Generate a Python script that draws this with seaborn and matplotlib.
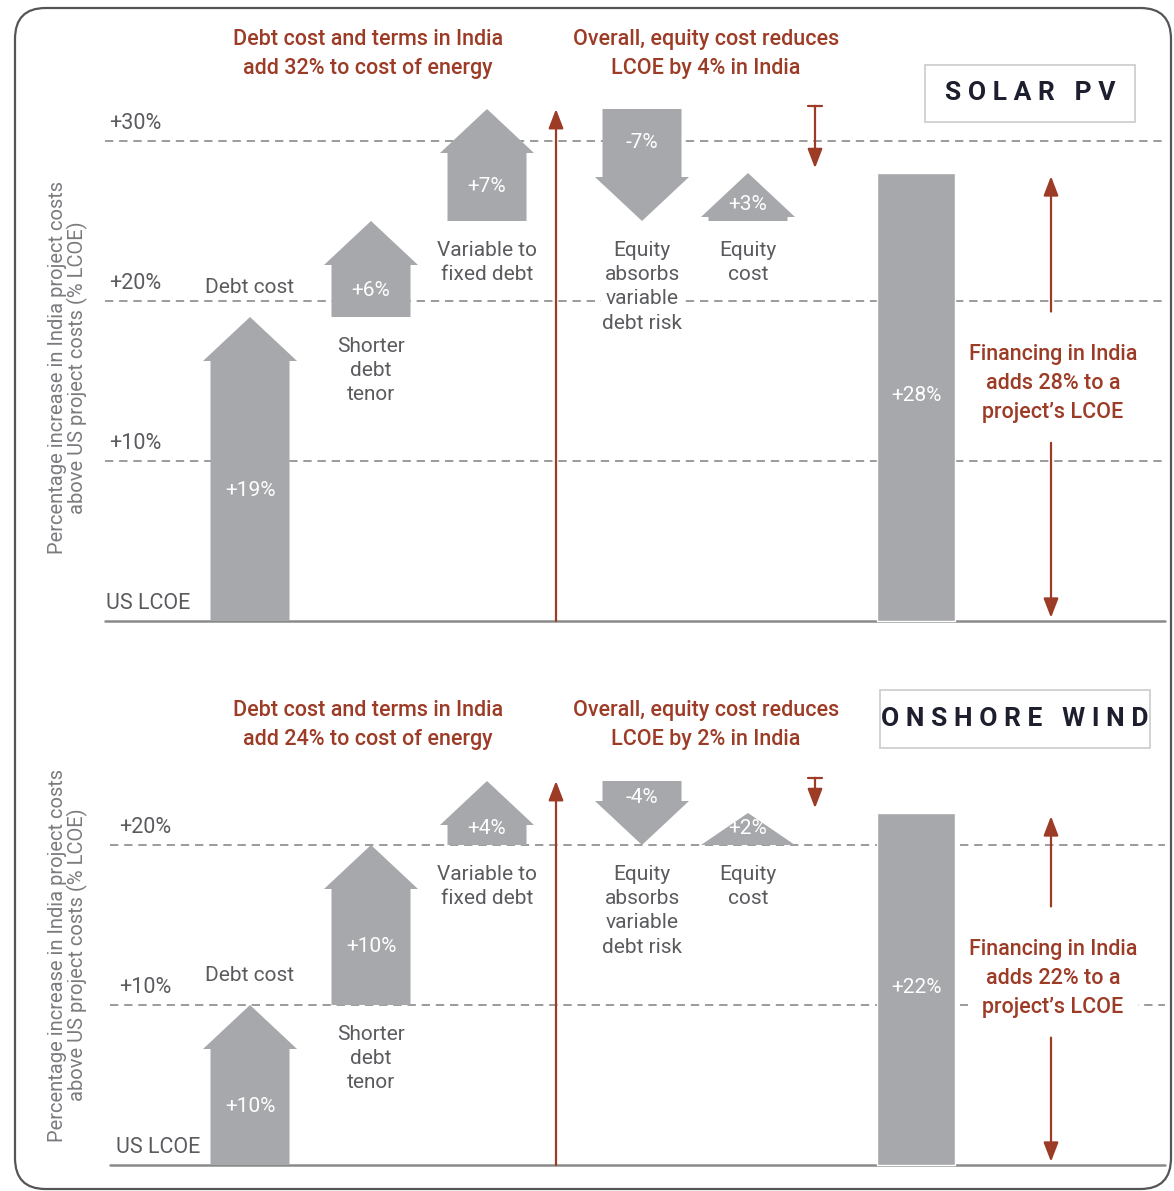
import numpy as np
import pandas as pd
import matplotlib
matplotlib.use("Agg")
import matplotlib.pyplot as plt
import seaborn as sns
from matplotlib.patches import Polygon, Rectangle, FancyBboxPatch

# ---------------- data ----------------
step_labels = ["Debt cost", "Shorter\ndebt\ntenor", "Variable to\nfixed debt",
               "Equity\nabsorbs\nvariable\ndebt risk", "Equity\ncost"]
solar_changes = [19, 6, 7, -7, 3]
wind_changes = [10, 10, 4, -4, 2]
solar_total = 28
wind_total = 22
solar_ticks = [0, 10, 20, 30]
solar_tick_labels = ["US LCOE", "+10%", "+20%", "+30%"]
wind_ticks = [0, 10, 20]
wind_tick_labels = ["US LCOE", "+10%", "+20%"]
solar_headers = ["Debt cost and terms in India\nadd 32% to cost of energy",
                 "Overall, equity cost reduces\nLCOE by 4% in India"]
wind_headers = ["Debt cost and terms in India\nadd 24% to cost of energy",
                "Overall, equity cost reduces\nLCOE by 2% in India"]
solar_note = "Financing in India\nadds 28% to a\nproject\u2019s LCOE"
wind_note = "Financing in India\nadds 22% to a\nproject\u2019s LCOE"
solar_name = "S O L A R   P V"
wind_name = "O N S H O R E   W I N D"
ylabel = "Percentage increase in India project costs\nabove US project costs (% LCOE)"

# ---------------- style ----------------
sns.set_theme(style="white")
plt.rcParams["font.family"] = ["Roboto", "DejaVu Sans"]

GREY = "#a7a8ab"
RED = "#9c3b26"
TXT = "#5a5b5e"
LINE = "#8a8a8a"

W, H = 1174, 1191
fig = plt.figure(figsize=(W / 100, H / 100), dpi=100)
PXU = 16.0  # pixels per percentage point

step_x = [250, 371, 487, 642, 748]
total_x = 916
body_half, head_half = 39.5, 47
FS = 15


def make_panel(rect_px, base_px, changes, total, ticks, tick_labels, headers,
               note, name, name_box, tick_dx, ylab_y):
    top_px, bot_px = rect_px
    ax = fig.add_axes([0, 1 - bot_px / H, 1, (bot_px - top_px) / H])
    ylim = ((base_px - bot_px) / PXU, (base_px - top_px) / PXU)

    # total bar via seaborn
    df = pd.DataFrame({"x": [total_x], "y": [total]})
    sns.barplot(data=df, x="x", y="y", native_scale=True, width=78, color=GREY,
                saturation=1, ax=ax, zorder=3)
    ax.set_xlim(0, W)
    ax.set_ylim(*ylim)
    ax.axis("off")
    ax.text(total_x, total / 2 + 0.1, f"+{total}%", ha="center", va="center", color="white",
            fontsize=FS, zorder=4)

    # grid lines
    for t in ticks[1:]:
        ax.plot([105 + tick_dx / 2, 1165], [t, t], ls=(0, (5, 3.5)), color=LINE, lw=1.2, zorder=1)
    ax.plot([105 + tick_dx / 2, 1165], [0, 0], color=LINE, lw=1.8, zorder=1)
    for t, lab in zip(ticks, tick_labels):
        if t == 0:
            ax.text(106 + tick_dx, t + 0.45, lab, ha="left", va="bottom", fontsize=FS + 0.5, color=TXT)
        else:
            ax.text(161 + tick_dx, t + 0.45, lab, ha="right", va="bottom", fontsize=FS + 0.5, color=TXT)

    # waterfall arrows
    cum = np.concatenate([[0], np.cumsum(changes)])
    for i, (c, xc) in enumerate(zip(changes, step_x)):
        s, e = cum[i], cum[i + 1]
        d = np.sign(e - s)
        L = abs(e - s)
        hl = min(2.75, L)
        sh = e - d * hl
        pts = [(xc - body_half, s), (xc - body_half, sh), (xc - head_half, sh), (xc, e),
               (xc + head_half, sh), (xc + body_half, sh), (xc + body_half, s)]
        ax.add_patch(Polygon(pts, closed=True, fc=GREY, ec="none", zorder=3))
        body_len = abs(sh - s)
        ly = s + d * max(body_len / 2, 1.05)
        ax.text(xc, ly, f"{c:+d}%", ha="center", va="center", color="white", fontsize=FS, zorder=4)
        if i == 0:
            ax.text(xc, e + 1.85, step_labels[i], ha="center", va="center", fontsize=FS,
                    color=TXT, zorder=2, bbox=dict(fc="white", ec="none", pad=0.5))
        else:
            ax.text(xc, min(s, e) - 1.25, step_labels[i], ha="center", va="top", fontsize=FS,
                    color=TXT, zorder=2, linespacing=1.35, bbox=dict(fc="white", ec="none", pad=0.5))

    # red arrows
    debt_sum = cum[3]
    ap = dict(arrowstyle="-|>,head_length=0.65,head_width=0.25", color=RED, lw=1.6,
              mutation_scale=18, shrinkA=0, shrinkB=0)
    ax.annotate("", xy=(556, debt_sum), xytext=(556, 0), arrowprops=ap, zorder=5)
    cap = debt_sum + 0.2
    ax.annotate("", xy=(815, total + 0.3), xytext=(815, cap), arrowprops=ap, zorder=5)
    ax.plot([808, 822], [cap, cap], color=RED, lw=1.6, zorder=5)
    mid = total * 0.53
    ax.annotate("", xy=(1051, total - 0.2), xytext=(1051, mid + 4.5), arrowprops=ap, zorder=5)
    ax.annotate("", xy=(1051, 0.2), xytext=(1051, mid - 3.7), arrowprops=ap, zorder=5)
    ax.text(1053, mid, note, ha="center", va="center", color=RED, fontsize=FS + 0.5,
            fontweight="medium", linespacing=1.5, zorder=6, bbox=dict(fc="white", ec="none", pad=1))

    # headers
    hy = ylab_y[1]
    for hx, htxt in zip([368, 706], headers):
        ax.text(hx, hy, htxt, ha="center", va="center", color=RED, fontsize=FS + 0.5,
                fontweight="medium", linespacing=1.55)

    # name box
    x0, x1, y0, y1 = name_box
    b0 = (base_px - y1) / PXU
    b1 = (base_px - y0) / PXU
    ax.add_patch(Rectangle((x0, b0), x1 - x0, b1 - b0, fc="white", ec="#cfcfcf", lw=1.3, zorder=2))
    ax.text((x0 + x1) / 2, (b0 + b1) / 2, name, ha="center", va="center", fontsize=19,
            fontweight="bold", color="#1d1f2e", zorder=3)

    # y label
    ax.text(68, ylab_y[0], ylabel, rotation=90, ha="center", va="center", fontsize=14.5,
            color="#7a7b7e", linespacing=1.05)
    return ax


make_panel((0, 640), 621, solar_changes, solar_total, solar_ticks, solar_tick_labels,
           solar_headers, solar_note, solar_name, (925, 1135, 65, 122), 0,
           ((621 - 368) / PXU, (621 - 54) / PXU))
make_panel((640, 1191), 1165, wind_changes, wind_total, wind_ticks, wind_tick_labels,
           wind_headers, wind_note, wind_name, (880, 1150, 690, 748), 10,
           ((1165 - 955) / PXU, (1165 - 725) / PXU))

# rounded frame
frame = FancyBboxPatch((15 / W, 1 - 1189 / H), (1171 - 15) / W, (1189 - 8) / H,
                       boxstyle="round,pad=0,rounding_size=0.026", transform=fig.transFigure,
                       fc="none", ec="#555555", lw=1.6, zorder=10)
fig.patches.append(frame)

fig.savefig("out.png", dpi=100)
